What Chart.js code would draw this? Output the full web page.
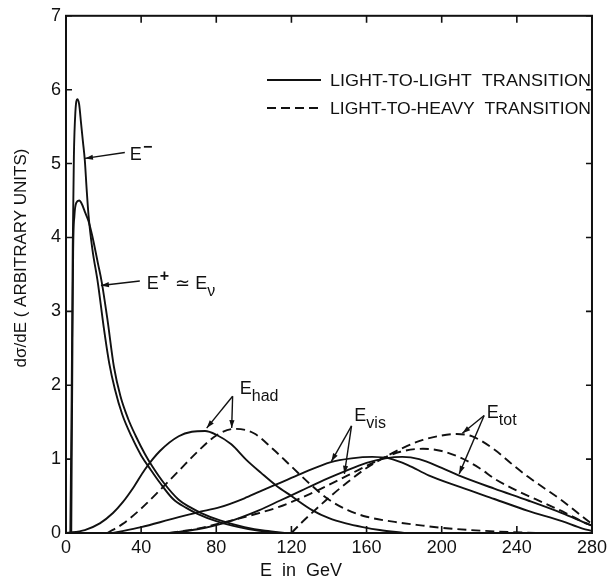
<!DOCTYPE html>
<html>
<head>
<meta charset="utf-8">
<script src="https://cdn.jsdelivr.net/npm/chart.js@4/dist/chart.umd.min.js"></script>
<style>
  html, body { margin: 0; padding: 0; background: #ffffff; }
  #wrap { width: 611px; height: 581px; }
</style>
</head>
<body>
<div id="wrap"><canvas id="c" width="611" height="581"></canvas></div>
<script>
// Energy distributions dσ/dE (arbitrary units) versus E in GeV

// E⁻ (light-to-light)
const eMinusE = [2.3, 3, 3.6, 4.2, 5, 6, 7, 8, 9, 10, 11, 12, 14, 17, 20, 23, 26, 30, 35, 40, 45, 50, 57, 64, 70, 80, 92, 103, 113];
const eMinusY = [0, 1.8, 3.9, 5.1, 5.7, 5.87, 5.8, 5.55, 5.3, 5.05, 4.65, 4.3, 3.85, 3.38, 2.8, 2.3, 1.95, 1.6, 1.3, 1.05, 0.86, 0.68, 0.46, 0.34, 0.26, 0.16, 0.08, 0.03, 0];

// E⁺ ≃ Eν (light-to-light)
const ePlusE = [2.8, 3.3, 3.8, 4.5, 5.5, 7, 8.5, 10, 12, 14, 17, 19, 22, 25.5, 29, 33, 37, 42, 46, 52, 60, 66, 72, 82, 95, 106, 118];
const ePlusY = [0, 2.0, 3.8, 4.3, 4.47, 4.5, 4.45, 4.35, 4.22, 4.02, 3.65, 3.4, 2.9, 2.25, 1.85, 1.55, 1.32, 1.07, 0.9, 0.68, 0.45, 0.35, 0.27, 0.17, 0.08, 0.03, 0];

// E_had
const hadLightE = [0, 10, 18, 25, 30, 36, 42, 50, 60, 67, 74, 80, 88, 96, 104, 112, 120, 131, 140, 149, 158, 167, 180];
const hadLightY = [0, 0.04, 0.13, 0.27, 0.41, 0.62, 0.86, 1.11, 1.31, 1.37, 1.38, 1.33, 1.2, 0.99, 0.81, 0.64, 0.5, 0.31, 0.2, 0.13, 0.08, 0.04, 0];
const hadHeavyE = [22, 30, 40, 50, 60, 70, 80, 90, 100, 110, 120, 130, 140, 150, 160, 175, 190, 200, 215, 230, 250];
const hadHeavyY = [0, 0.12, 0.33, 0.58, 0.84, 1.1, 1.32, 1.41, 1.35, 1.14, 0.9, 0.66, 0.45, 0.31, 0.22, 0.15, 0.1, 0.07, 0.04, 0.02, 0];

// E_vis
const visLightE = [25, 40, 55, 70, 82, 95, 103, 114, 125, 141, 152, 163, 172, 182, 193, 210, 228, 246, 264, 275, 280];
const visLightY = [0, 0.08, 0.18, 0.28, 0.35, 0.47, 0.56, 0.68, 0.8, 0.96, 1.01, 1.03, 1.01, 0.92, 0.78, 0.62, 0.46, 0.3, 0.16, 0.06, 0.03];
const visHeavyE = [55, 70, 85, 100, 113, 130, 150, 165, 178, 190, 200, 210, 220, 229, 242, 255, 266, 276, 280];
const visHeavyY = [0, 0.06, 0.15, 0.25, 0.35, 0.53, 0.78, 0.97, 1.1, 1.14, 1.11, 1.02, 0.88, 0.72, 0.55, 0.4, 0.27, 0.14, 0.1];

// E_tot
const totLightE = [55, 70, 85, 103, 114, 125, 135, 147, 160, 170, 179, 188, 200, 209, 228, 246, 264, 278, 280];
const totLightY = [0, 0.05, 0.14, 0.31, 0.44, 0.57, 0.69, 0.82, 0.95, 1.01, 1.03, 1.0, 0.88, 0.78, 0.6, 0.44, 0.27, 0.12, 0.1];
const totHeavyE = [120, 125, 130, 140, 150, 160, 170, 180, 190, 200, 208, 216, 228, 238, 246, 255, 264, 272, 280];
const totHeavyY = [0, 0.13, 0.25, 0.48, 0.69, 0.88, 1.03, 1.16, 1.26, 1.32, 1.34, 1.31, 1.13, 0.92, 0.76, 0.6, 0.44, 0.28, 0.12];

// Axis ticks and texts
const xTicks = [0, 40, 80, 120, 160, 200, 240, 280];
const yTicks = [0, 1, 2, 3, 4, 5, 6, 7];
const xTitle = 'E  in  GeV';
const yTitle = 'dσ/dE ( ARBITRARY UNITS)';
const legendLabels = ['LIGHT-TO-LIGHT  TRANSITION', 'LIGHT-TO-HEAVY  TRANSITION'];

const INK = '#111111';
const FONT = '"Liberation Sans", Arial, sans-serif';
const DASH = [9, 5];

function zip(xs, ys) { return xs.map((x, i) => ({ x: x, y: ys[i] })); }
function curve(label, xs, ys, dashed) {
  return {
    label: label,
    data: zip(xs, ys),
    borderColor: INK,
    borderWidth: 1.9,
    borderDash: dashed ? DASH : [],
    pointRadius: 0,
    fill: false,
    cubicInterpolationMode: 'monotone',
    clip: 3
  };
}

// Curve labels with pointer arrows, placed in data coordinates
const curveNotes = [
  { parts: [['E', 'n'], ['−', 'sup']], at: [34, 5.05], from: [31.3, 5.15], to: [[10.1, 5.07]] },
  { parts: [['E', 'n'], ['+', 'sup'], [' ≃ E', 'n'], ['ν', 'sub']], at: [43, 3.3], from: [39.3, 3.41], to: [[18.6, 3.35]] },
  { parts: [['E', 'n'], ['had', 'sub']], at: [92.5, 1.88], from: [88.7, 1.85], to: [[74.9, 1.42], [88.2, 1.42]] },
  { parts: [['E', 'n'], ['vis', 'sub']], at: [153.5, 1.52], from: [152, 1.45], to: [[141.3, 0.97], [148.2, 0.8]] },
  { parts: [['E', 'n'], ['tot', 'sub']], at: [224, 1.56], from: [222.6, 1.59], to: [[211, 1.35], [209.3, 0.8]] }
];

function arrow(ctx, x0, y0, x1, y1) {
  ctx.beginPath();
  ctx.moveTo(x0, y0);
  ctx.lineTo(x1, y1);
  ctx.stroke();
  const a = Math.atan2(y1 - y0, x1 - x0);
  const L = 8, W = 2.6;
  ctx.beginPath();
  ctx.moveTo(x1, y1);
  ctx.lineTo(x1 - L * Math.cos(a) + W * Math.sin(a), y1 - L * Math.sin(a) - W * Math.cos(a));
  ctx.lineTo(x1 - L * Math.cos(a) - W * Math.sin(a), y1 - L * Math.sin(a) + W * Math.cos(a));
  ctx.closePath();
  ctx.fill();
}

function richText(ctx, parts, x, y) {
  let cx = x;
  parts.forEach(([t, kind]) => {
    if (kind === 'n') {
      ctx.font = '18px ' + FONT;
      ctx.fillText(t, cx, y);
    } else if (kind === 'sup') {
      ctx.font = 'bold 16px ' + FONT;
      ctx.fillText(t, cx + 1, y - 8);
      cx += 2;
    } else {
      ctx.font = '16px ' + FONT;
      ctx.fillText(t, cx, y + 7);
    }
    cx += ctx.measureText(t).width;
  });
}

const decorations = {
  id: 'decorations',
  afterDraw(chart) {
    const { ctx, chartArea: a, scales: { x, y } } = chart;
    ctx.save();
    ctx.strokeStyle = INK;
    ctx.fillStyle = INK;
    ctx.lineWidth = 2;
    ctx.setLineDash([]);
    // frame
    ctx.strokeRect(a.left, a.top, a.right - a.left, a.bottom - a.top);
    // inward tick marks
    ctx.lineWidth = 1.6;
    yTicks.forEach(v => {
      const py = y.getPixelForValue(v);
      ctx.beginPath();
      ctx.moveTo(a.left, py); ctx.lineTo(a.left + 6, py);
      ctx.moveTo(a.right, py); ctx.lineTo(a.right - 6, py);
      ctx.stroke();
    });
    xTicks.forEach(v => {
      const px = x.getPixelForValue(v);
      ctx.beginPath();
      ctx.moveTo(px, a.bottom); ctx.lineTo(px, a.bottom - 7);
      ctx.moveTo(px, a.top); ctx.lineTo(px, a.top + 7);
      ctx.stroke();
    });

    // axis titles
    ctx.textBaseline = 'middle';
    ctx.textAlign = 'center';
    ctx.font = '18px ' + FONT;
    ctx.fillText(xTitle, 301, 571);
    ctx.save();
    ctx.translate(21, 258);
    ctx.rotate(-Math.PI / 2);
    ctx.font = '17px ' + FONT;
    ctx.fillText(yTitle, 0, 0);
    ctx.restore();

    // legend
    ctx.textAlign = 'left';
    ctx.font = '17px ' + FONT;
    const rows = [80, 108];
    rows.forEach((ry, i) => {
      ctx.lineWidth = 1.9;
      ctx.setLineDash(i === 0 ? [] : DASH);
      ctx.beginPath();
      ctx.moveTo(267, ry); ctx.lineTo(321, ry);
      ctx.stroke();
      ctx.setLineDash([]);
      const w = ctx.measureText(legendLabels[i]).width;
      ctx.save();
      ctx.translate(330, ry + 1);
      ctx.scale(261 / w, 1);
      ctx.fillText(legendLabels[i], 0, 0);
      ctx.restore();
    });

    // curve labels and pointers
    ctx.textBaseline = 'alphabetic';
    ctx.lineWidth = 1.4;
    curveNotes.forEach(n => {
      richText(ctx, n.parts, x.getPixelForValue(n.at[0]), y.getPixelForValue(n.at[1]));
      const fx = x.getPixelForValue(n.from[0]), fy = y.getPixelForValue(n.from[1]);
      n.to.forEach(t => arrow(ctx, fx, fy, x.getPixelForValue(t[0]), y.getPixelForValue(t[1])));
    });
    ctx.restore();
  }
};

new Chart(document.getElementById('c'), {
  type: 'line',
  data: {
    datasets: [
      curve('E−', eMinusE, eMinusY, false),
      curve('E+', ePlusE, ePlusY, false),
      curve('E had (light)', hadLightE, hadLightY, false),
      curve('E had (heavy)', hadHeavyE, hadHeavyY, true),
      curve('E vis (light)', visLightE, visLightY, false),
      curve('E vis (heavy)', visHeavyE, visHeavyY, true),
      curve('E tot (light)', totLightE, totLightY, false),
      curve('E tot (heavy)', totHeavyE, totHeavyY, true)
    ]
  },
  options: {
    responsive: false,
    animation: false,
    devicePixelRatio: 1,
    layout: { padding: { top: 12, right: 18, left: 0, bottom: 0 } },
    plugins: { legend: { display: false }, tooltip: { enabled: false } },
    scales: {
      x: {
        type: 'linear',
        min: 0, max: 280,
        afterBuildTicks: s => { s.ticks = xTicks.map(v => ({ value: v })); },
        afterFit: s => { s.height = 48; },
        grid: { display: false, drawTicks: false, tickLength: 0 },
        border: { display: false },
        ticks: { color: INK, padding: 4, maxRotation: 0, font: { family: FONT, size: 18 } }
      },
      y: {
        type: 'linear',
        min: 0, max: 7,
        afterBuildTicks: s => { s.ticks = yTicks.map(v => ({ value: v })); },
        afterFit: s => { s.width = 66; },
        grid: { display: false, drawTicks: false, tickLength: 0 },
        border: { display: false },
        ticks: { color: INK, padding: 5, font: { family: FONT, size: 18 } }
      }
    }
  },
  plugins: [decorations]
});
</script>
</body>
</html>
